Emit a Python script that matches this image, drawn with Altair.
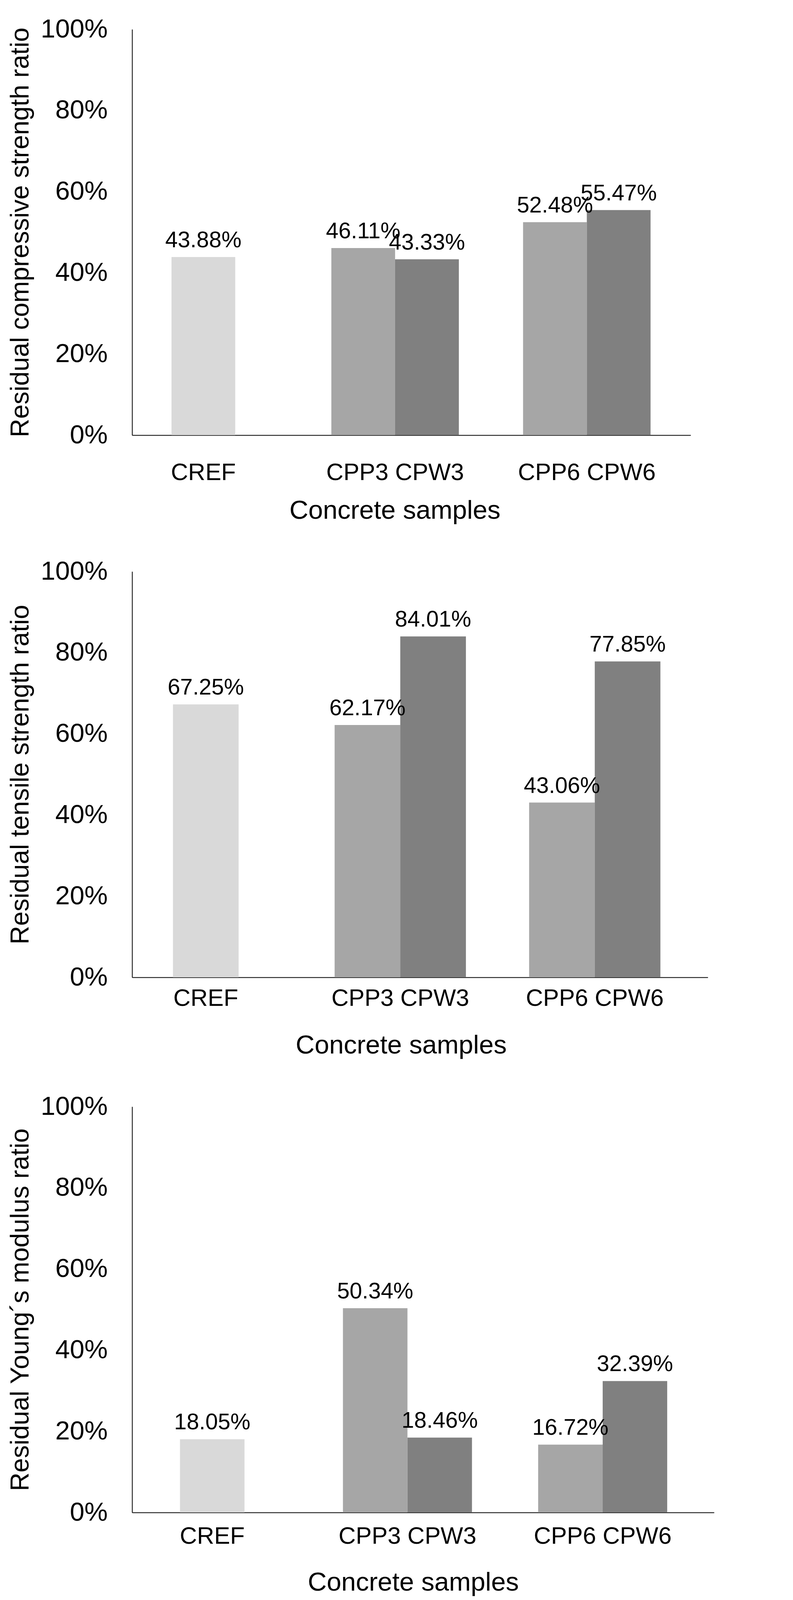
import altair as alt
import pandas as pd

# ---- data ----
groups = ["CREF", "CPP3 CPW3", "CPP6 CPW6"]
samples = ["CREF", "CPP3", "CPW3", "CPP6", "CPW6"]
sample_groups = ["CREF", "CPP3 CPW3", "CPP3 CPW3", "CPP6 CPW6", "CPP6 CPW6"]
series = ["REF", "PP", "PW", "PP", "PW"]
compressive = [43.88, 46.11, 43.33, 52.48, 55.47]
tensile = [67.25, 62.17, 84.01, 43.06, 77.85]
young = [18.05, 50.34, 18.46, 16.72, 32.39]
y_ticks = [0, 0.2, 0.4, 0.6, 0.8, 1.0]
series_names = ["REF", "PP", "PW"]
series_colors = ["#d9d9d9", "#a6a6a6", "#808080"]

FONT = "Liberation Sans"


def panel(values, ytitle, width, pin, pout, align, xlp, xtp, xtitle_x):
    df = pd.DataFrame({
        "group": sample_groups,
        "sample": samples,
        "series": series,
        "value": [v / 100 for v in values],
    })
    xscale = alt.Scale(domain=groups, paddingInner=pin, paddingOuter=pout, align=align)
    x = alt.X(
        "group:N", scale=xscale, title="Concrete samples",
        axis=alt.Axis(labelAngle=0, labelFontSize=61, labelPadding=xlp, titlePadding=xtp,
                      titleFontSize=67, ticks=False, tickSize=0, domainColor="black",
                      domainWidth=2, labelLimit=2000, labelOverlap=False, labelColor="black",
                      titleColor="black", titleFontWeight="normal", labelFont=FONT,
                      titleFont=FONT, grid=False, titleX=xtitle_x),
    )
    y = alt.Y(
        "value:Q", scale=alt.Scale(domain=[0, 1], nice=False), title=ytitle,
        axis=alt.Axis(values=y_ticks, format=".0%", labelFontSize=67, labelPadding=63,
                      titlePadding=52, titleFontSize=66, ticks=False, tickSize=0,
                      grid=False, domainColor="black", domainWidth=2, labelLimit=2000,
                      labelColor="black", titleColor="black", titleFontWeight="normal",
                      labelFont=FONT, titleFont=FONT),
    )
    col = alt.Color("series:N", scale=alt.Scale(domain=series_names, range=series_colors),
                    legend=None)
    xoff = alt.XOffset("series:N", scale=alt.Scale(domain=["PP", "PW"]))
    txt = alt.Text("value:Q", format=".2%")

    base = alt.Chart(df)
    ref = base.transform_filter(alt.datum.series == "REF")
    pair = base.transform_filter(alt.datum.series != "REF")

    ref_bar = ref.mark_bar(width={"band": 0.5}).encode(x=x, y=y, color=col)
    pair_bar = pair.mark_bar().encode(x=x, xOffset=xoff, y=y, color=col)
    ref_txt = ref.mark_text(fontSize=57.5, font=FONT, dy=-25, baseline="alphabetic",
                            color="black").encode(x=x, y=y, text=txt)
    pair_txt = pair.mark_text(fontSize=57.5, font=FONT, dy=-25, baseline="alphabetic",
                              color="black").encode(x=x, xOffset=xoff, y=y, text=txt)
    return alt.layer(ref_bar, pair_bar, ref_txt, pair_txt).properties(width=width, height=1039)


p1 = panel(compressive, "Residual compressive strength ratio", 1429, 0.335, 0.124, 0.158, 66, 34, 672)
p2 = panel(tensile, "Residual tensile strength ratio", 1473, 0.325, 0.1425, 0.145, 24, 57.5, 688)
p3 = panel(young, "Residual Young\u00b4s modulus ratio", 1489, 0.339, 0.16, 0.25, 31.5, 55, 719)

chart = (
    alt.vconcat(p1, p2, p3, spacing=89)
    .resolve_scale(x="independent", xOffset="independent", color="independent")
    .properties(padding={"left": 10, "top": 33, "right": 9, "bottom": 9})
    .configure(font=FONT)
    .configure_view(strokeWidth=0, stroke=None)
)

chart.save("out.html", embed_options={"renderer": "svg", "actions": False})
